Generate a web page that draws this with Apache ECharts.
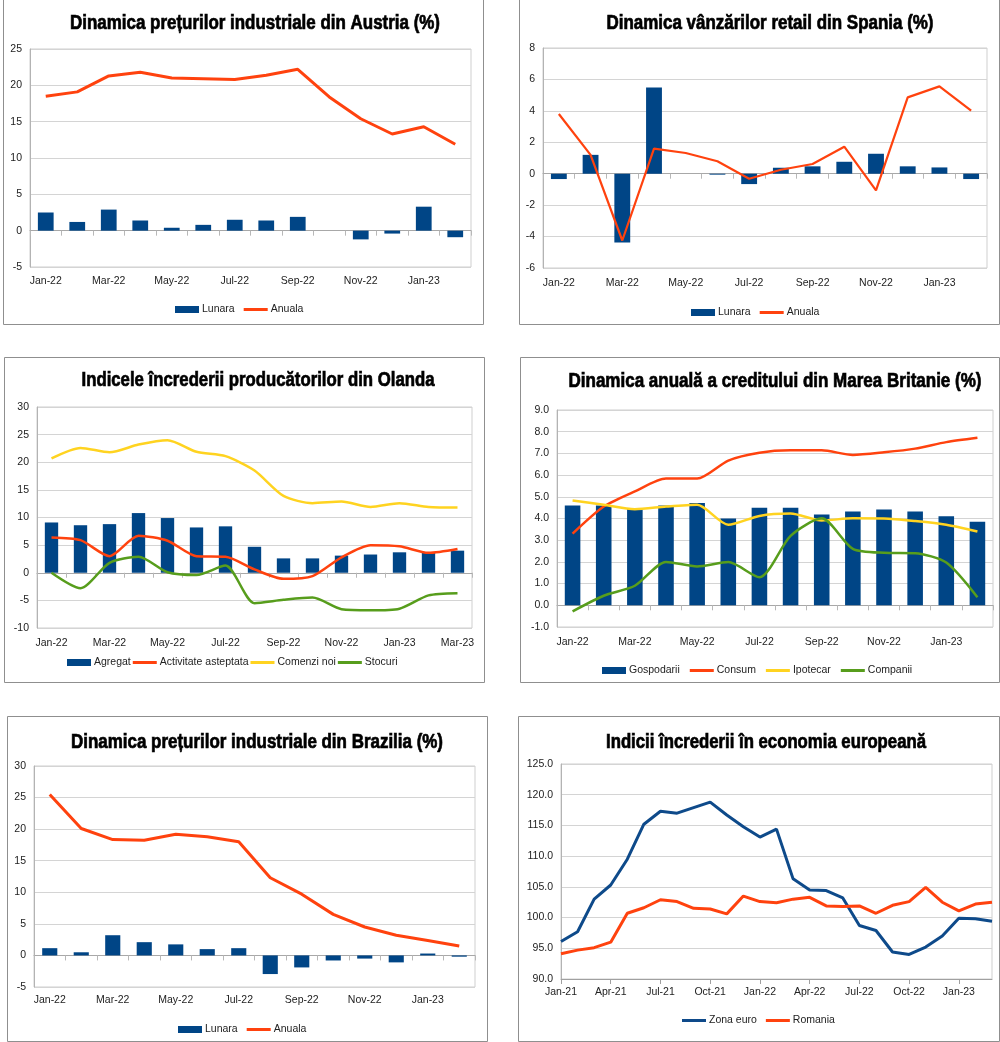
<!DOCTYPE html>
<html><head><meta charset="utf-8">
<script src="https://cdn.jsdelivr.net/npm/echarts@6/dist/echarts.min.js"></script>
<style>html,body{margin:0;padding:0;background:#fff}#c{width:1000px;height:1042px}</style>
</head><body><div id="c"></div>
<script>
// ---------- DATA ----------
const months14 = ['Jan-22','Feb-22','Mar-22','Apr-22','May-22','Jun-22','Jul-22','Aug-22','Sep-22','Oct-22','Nov-22','Dec-22','Jan-23','Feb-23'];
const months15 = ['Jan-22','Feb-22','Mar-22','Apr-22','May-22','Jun-22','Jul-22','Aug-22','Sep-22','Oct-22','Nov-22','Dec-22','Jan-23','Feb-23','Mar-23'];
const months27 = ['Jan-21','Feb-21','Mar-21','Apr-21','May-21','Jun-21','Jul-21','Aug-21','Sep-21','Oct-21','Nov-21','Dec-21',
  'Jan-22','Feb-22','Mar-22','Apr-22','May-22','Jun-22','Jul-22','Aug-22','Sep-22','Oct-22','Nov-22','Dec-22','Jan-23','Feb-23','Mar-23'];

const titles = [
  'Dinamica prețurilor industriale din Austria (%)',
  'Dinamica vânzărilor retail din Spania (%)',
  'Indicele încrederii producătorilor din Olanda',
  'Dinamica anuală a creditului din Marea Britanie (%)',
  'Dinamica prețurilor industriale din Brazilia (%)',
  'Indicii încrederii în economia europeană'
];

// Austria
const austriaLunara = [2.5, 1.2, 2.9, 1.4, 0.4, 0.8, 1.5, 1.4, 1.9, 0, -1.2, -0.4, 3.3, -0.9];
const austriaAnuala = [18.5, 19.1, 21.3, 21.8, 21.0, 20.9, 20.8, 21.4, 22.2, 18.4, 15.4, 13.3, 14.3, 11.9];
// Spain
const spainLunara = [-0.34, 1.2, -4.37, 5.48, 0, -0.06, -0.66, 0.38, 0.47, 0.76, 1.27, 0.47, 0.4, -0.34];
const spainAnuala = [3.8, 1.2, -4.25, 1.6, 1.32, 0.79, -0.32, 0.25, 0.62, 1.72, -1.06, 4.86, 5.56, 4.01];
// Netherlands
const nlAgregat = [9.1, 8.6, 8.8, 10.8, 9.9, 8.2, 8.4, 4.7, 2.6, 2.6, 3.1, 3.3, 3.7, 3.7, 4.0];
const nlActivitate = [6.4, 5.9, 3.0, 6.7, 5.8, 3.0, 2.9, 0.6, -1.1, -0.6, 2.8, 5.0, 4.8, 3.6, 4.3];
const nlComenzi = [20.7, 22.6, 21.8, 23.2, 24.0, 21.9, 21.1, 18.5, 13.9, 12.6, 12.9, 11.9, 12.6, 11.9, 11.8];
const nlStocuri = [0.0, -2.8, 1.8, 2.9, 0.1, -0.4, 1.3, -5.5, -4.9, -4.5, -6.6, -6.8, -6.5, -4.1, -3.7];
// UK
const ukGospodarii = [4.6, 4.6, 4.47, 4.6, 4.72, 4.0, 4.5, 4.5, 4.18, 4.32, 4.41, 4.32, 4.1, 3.85];
const ukConsum = [3.3, 4.55, 5.25, 5.84, 5.84, 6.67, 7.03, 7.14, 7.14, 6.93, 7.05, 7.22, 7.52, 7.72];
const ukIpotecar = [4.83, 4.63, 4.43, 4.55, 4.63, 3.71, 4.12, 4.23, 3.91, 4.01, 4.0, 3.88, 3.71, 3.4];
const ukCompanii = [-0.28, 0.44, 0.9, 2.0, 1.79, 1.99, 1.29, 3.2, 4.01, 2.6, 2.42, 2.4, 1.97, 0.37];
// Brazil
const brLunara = [1.15, 0.5, 3.2, 2.1, 1.75, 1.0, 1.15, -2.95, -1.9, -0.8, -0.5, -1.1, 0.3, -0.2];
const brAnuala = [25.5, 20.1, 18.35, 18.25, 19.2, 18.8, 18.0, 12.3, 9.7, 6.5, 4.5, 3.2, 2.35, 1.5];
// Europe
const euZona = [96.1, 97.7, 103.0, 105.3, 109.5, 115.2, 117.3, 117.0, 117.9, 118.8, 116.7, 114.8, 113.1, 114.4,
  106.3, 104.5, 104.4, 103.2, 98.7, 97.9, 94.4, 94.0, 95.2, 97.0, 99.9, 99.8, 99.4];
const euRomania = [94.1, 94.7, 95.1, 96.0, 100.7, 101.6, 102.9, 102.6, 101.5, 101.4, 100.6, 103.5, 102.6, 102.4,
  103.0, 103.3, 101.9, 101.8, 101.9, 100.7, 102.0, 102.6, 104.9, 102.5, 101.1, 102.2, 102.5];

// ---------- STYLE ----------
const BLUE = '#004586', ORANGE = '#ff420e', YELLOW = '#ffd320', GREEN = '#579d1c';
const LABEL_FONT = 'Liberation Sans';
const LSIZE = 10.5;
const TITLE_FONT = 'bold 20px "Liberation Sans", Arial, sans-serif';
const LINE_ICON = 'path://M0,0L0.01,0M0,2L24,2L24,5L0,5ZM23.99,7L24,7';

// layout: box, grid, title centre + target width, legend left/top/gap, y-axis min/max/interval/decimals
const panels = [
  {box:[3,-2,480,326], grid:[30,49,441,218], title:[255,23,370], legend:[175,304,9], y:[-5,25,5,0], cats:months14, zero:true, xInt:1, lm:9},
  {box:[519,-2,480,326], grid:[543,48,444,220], title:[770,23,327], legend:[691,307,9], y:[-6,8,2,0], cats:months14, zero:true, xInt:1, lm:10},
  {box:[4,357,480,325], grid:[37,407,435,221], title:[258,380,353], legend:[67,657,2], y:[-10,30,5,0], cats:months15, zero:true, xInt:1, lm:10},
  {box:[520,357,479,325], grid:[557,410,436,217], title:[775,381,413], legend:[602,665,10], y:[-1,9,1,1], cats:months14, zero:true, xInt:1, lm:10},
  {box:[7,716,480,325], grid:[34,766,441,221], title:[257,742,372], legend:[178,1024,9], y:[-5,30,5,0], cats:months14, zero:true, xInt:1, lm:8},
  {box:[518,716,481,325], grid:[561,764,431,215], title:[766,742,320], legend:[682,1015,9], y:[90,125,5,1], cats:months27, zero:false, xInt:2, lm:8, noGap:true}
];

const seriesDefs = [
  [{n:'Lunara',t:'bar',d:austriaLunara,c:BLUE},{n:'Anuala',t:'line',d:austriaAnuala,c:ORANGE,w:3}],
  [{n:'Lunara',t:'bar',d:spainLunara,c:BLUE},{n:'Anuala',t:'line',d:spainAnuala,c:ORANGE,w:2.2}],
  [{n:'Agregat',t:'bar',d:nlAgregat,c:BLUE,bw:'46%'},{n:'Activitate asteptata',t:'line',d:nlActivitate,c:ORANGE,w:2.5,s:0.25},
   {n:'Comenzi noi',t:'line',d:nlComenzi,c:YELLOW,w:2.5,s:0.25},{n:'Stocuri',t:'line',d:nlStocuri,c:GREEN,w:2.5,s:0.25}],
  [{n:'Gospodarii',t:'bar',d:ukGospodarii,c:BLUE},{n:'Consum',t:'line',d:ukConsum,c:ORANGE,w:2.5,s:0.25},
   {n:'Ipotecar',t:'line',d:ukIpotecar,c:YELLOW,w:2.5,s:0.25},{n:'Companii',t:'line',d:ukCompanii,c:GREEN,w:2.5,s:0.25}],
  [{n:'Lunara',t:'bar',d:brLunara,c:BLUE,bw:'48%'},{n:'Anuala',t:'line',d:brAnuala,c:ORANGE,w:3}],
  [{n:'Zona euro',t:'line',d:euZona,c:'#0e4a8a',w:3},{n:'Romania',t:'line',d:euRomania,c:ORANGE,w:3}]
];

const measureCtx = document.createElement('canvas').getContext('2d');
measureCtx.font = TITLE_FONT;

const option = {animation:false, backgroundColor:'#fff', grid:[], xAxis:[], yAxis:[], series:[], legend:[], graphic:[]};

panels.forEach((p, i) => {
  const [bx,by,bw,bh] = p.box;
  option.graphic.push({type:'rect', shape:{x:bx+0.5,y:by+0.5,width:bw,height:bh}, style:{fill:'none',stroke:'#8f8f8f',lineWidth:1}, z:-1});
  const tw = measureCtx.measureText(titles[i]).width;
  option.graphic.push({type:'text', x:p.title[0], y:p.title[1], scaleX: p.title[2] / tw,
    style:{text:titles[i], font:TITLE_FONT, fill:'#000', stroke:'#000', lineWidth:0.7, textAlign:'center', textVerticalAlign:'middle'}});
  const [gl,gt,gw,gh] = p.grid;
  option.grid.push({left:gl, top:gt, width:gw, height:gh, show:true, borderColor:'#cfcfcf', borderWidth:1, containLabel:false});
  const dec = p.y[3];
  option.yAxis.push({type:'value', gridIndex:i, min:p.y[0], max:p.y[1], interval:p.y[2],
    axisLine:{show:true, lineStyle:{color:'#b3b3b3'}}, axisTick:{show:false},
    axisLabel:{fontFamily:LABEL_FONT, fontSize:LSIZE, color:'#222', margin:8, formatter: v => dec ? v.toFixed(dec) : String(v)},
    splitLine:{show:true, lineStyle:{color:'#d4d4d4', width:1}}});
  const mainIdx = option.xAxis.length;
  option.xAxis.push({type:'category', gridIndex:i, data:p.cats, position:'bottom', boundaryGap: !p.noGap,
    axisLine:{show: !p.zero, onZero:false, lineStyle:{color:'#a0a0a0'}},
    axisTick:{show: !p.zero, interval:p.xInt, length:5, lineStyle:{color:'#a0a0a0'}},
    axisLabel:{interval:p.xInt, fontFamily:LABEL_FONT, fontSize:LSIZE, color:'#222', margin:p.lm},
    splitLine:{show:false}});
  if (p.zero) {
    option.xAxis.push({type:'category', gridIndex:i, data:p.cats, position:'bottom',
      axisLine:{show:true, onZero:true, lineStyle:{color:'#a8a8a8'}},
      axisTick:{show:true, interval:0, length:5, lineStyle:{color:'#b8b8b8'}},
      axisLabel:{show:false}, splitLine:{show:false}});
  }
  const names = [];
  seriesDefs[i].forEach(s => {
    names.push({name:s.n, icon: s.t === 'bar' ? 'rect' : LINE_ICON});
    if (s.t === 'bar') {
      option.series.push({type:'bar', name:s.n, xAxisIndex:mainIdx, yAxisIndex:i, data:s.d, barWidth:s.bw || '50%',
        itemStyle:{color:s.c}, z:2});
    } else {
      option.series.push({type:'line', name:s.n, xAxisIndex:mainIdx, yAxisIndex:i, data:s.d, symbol:'none',
        smooth:s.s || false, lineStyle:{color:s.c, width:s.w}, itemStyle:{color:s.c}, z:3});
    }
  });
  option.legend.push({data:names, left:p.legend[0], top:p.legend[1], itemWidth:24, itemHeight:7, itemGap:p.legend[2],
    selectedMode:false, itemStyle:{borderWidth:0},
    textStyle:{fontFamily:LABEL_FONT, fontSize:LSIZE, color:'#222', padding:[0,0,0,-2]}, padding:0});
});

const chart = echarts.init(document.getElementById('c'), null, {renderer:'canvas'});
chart.setOption(option);
</script></body></html>
